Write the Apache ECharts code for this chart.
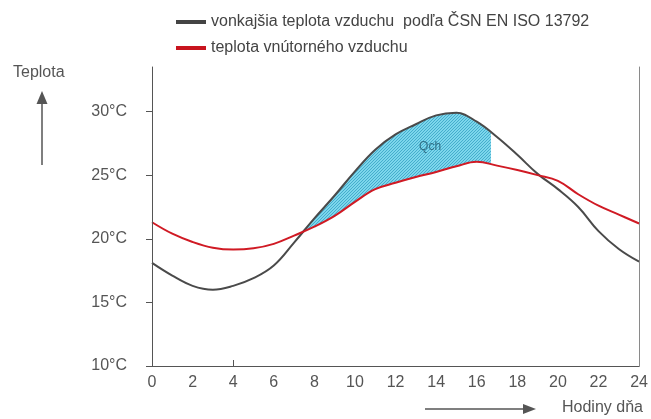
<!DOCTYPE html>
<html>
<head>
<meta charset="utf-8">
<script src="https://cdn.jsdelivr.net/npm/echarts@6/dist/echarts.min.js"></script>
<style>
  html, body { margin: 0; padding: 0; background: #fff; }
  #chart { width: 651px; height: 419px; }
</style>
</head>
<body>
<div id="chart"></div>
<script>
// ---- data ----
const hours = [0,1,2,3,4,5,6,7,8,9,10,11,12,13,14,15,16,17,18,19,20,21,22,23,24];
const outsideTemp = [18.1,17.1,16.3,16.0,16.3,16.9,17.9,19.7,21.6,23.4,25.3,27.0,28.2,29.0,29.7,29.9,29.2,28.0,26.6,25.1,23.9,22.5,20.6,19.2,18.2];
const insideTemp  = [21.3,20.4,19.75,19.3,19.15,19.25,19.6,20.25,20.95,21.8,22.9,23.9,24.4,24.85,25.25,25.7,26.05,25.75,25.4,25.0,24.55,23.5,22.6,21.9,21.2];
// shaded (Qch) region: from the crossing to the cut-off hour (upper edge = outside temperature)
const fillHours   = [7.37,8,9,10,11,12,13,14,15,16,16.7];
const fillOutside = [20.55,21.6,23.4,25.3,27.0,28.2,29.0,29.7,29.9,29.2,28.3];
const qchLabel = [13.7, 27.2];
const yTicks = [10,15,20,25,30];
const xTickMarks = [4];
const seriesNames = ['vonkajšia teplota vzduchu  podľa ČSN EN ISO 13792', 'teplota vnútorného vzduchu'];

const pair = (xs, ys) => xs.map((x, i) => [x, ys[i]]);

// hatch pattern
const pc = document.createElement('canvas');
pc.width = 6; pc.height = 6;
const ctx = pc.getContext('2d');
ctx.fillStyle = '#7dd6ec';
ctx.fillRect(0, 0, 6, 6);
ctx.strokeStyle = '#3ea8c8';
ctx.lineWidth = 0.9;
for (let c = -6; c <= 12; c += 3) {
  ctx.beginPath(); ctx.moveTo(c, 0); ctx.lineTo(c - 6, 6); ctx.stroke();
}

const FONT = 'Liberation Sans, Arial, sans-serif';
const chart = echarts.init(document.getElementById('chart'), null, { renderer: 'canvas' });
chart.setOption({
  animation: false,
  backgroundColor: '#fff',
  legend: {
    data: seriesNames,
    orient: 'vertical',
    left: 171,
    top: 9,
    itemWidth: 30,
    itemHeight: 4,
    itemGap: 10,
    icon: 'rect',
    textStyle: { fontFamily: FONT, fontSize: 16, color: '#444' }
  },
  grid: { left: 152, right: 6, top: 67, bottom: 53, containLabel: false },
  xAxis: {
    type: 'value', min: 0, max: 24, interval: 2, z: 10,
    axisLine: { show: true, lineStyle: { color: '#555', width: 1 } },
    axisTick: { show: true, inside: true, length: 6, customValues: xTickMarks, lineStyle: { color: '#555' } },
    axisLabel: { fontFamily: FONT, fontSize: 16, color: '#555', margin: 9, showMaxLabel: true, showMinLabel: true },
    splitLine: { show: false }
  },
  yAxis: [{
    type: 'value', min: 10, max: 33.5, interval: 5, z: 10,
    axisLine: { show: true, lineStyle: { color: '#555', width: 1 } },
    axisTick: { show: true, length: 6, customValues: yTicks, lineStyle: { color: '#555' } },
    axisLabel: { fontFamily: FONT, fontSize: 16, color: '#555', margin: 25, customValues: yTicks, formatter: '{value}°C' },
    splitLine: { show: false }
  }, {
    type: 'value', min: 10, max: 33.5, position: 'right', z: 10,
    axisLine: { show: true, lineStyle: { color: '#8a8a8a', width: 1 } },
    axisTick: { show: false }, axisLabel: { show: false }, splitLine: { show: false }
  }],
  series: [
    {
      name: 'Qch', type: 'line', smooth: 0.4, symbol: 'none', z: 1,
      data: pair(fillHours, fillOutside),
      lineStyle: { opacity: 0 },
      areaStyle: { color: { image: pc, repeat: 'repeat' }, opacity: 1, origin: 'start' },
      silent: true,
      markPoint: {
        symbol: 'circle', symbolSize: 1, z: 6,
        itemStyle: { color: 'rgba(0,0,0,0)' },
        data: [{ coord: qchLabel, value: 'Qch' }],
        label: { show: true, position: 'inside', formatter: 'Qch', fontFamily: FONT, fontSize: 12, color: '#2e6f86' }
      }
    },
    {
      // white mask under the inside-temperature curve, so the hatch only remains between the curves
      name: 'cover', type: 'line', smooth: 0.4, symbol: 'none', z: 2,
      data: pair(hours, insideTemp),
      lineStyle: { opacity: 0 },
      areaStyle: { color: '#ffffff', opacity: 1, origin: 'start' },
      silent: true
    },
    {
      name: seriesNames[0], type: 'line', smooth: 0.4, symbol: 'none', z: 3,
      data: pair(hours, outsideTemp),
      color: '#444',
      lineStyle: { color: '#4a4a4a', width: 2 }
    },
    {
      name: seriesNames[1], type: 'line', smooth: 0.4, symbol: 'none', z: 4,
      data: pair(hours, insideTemp),
      color: '#c8141e',
      lineStyle: { color: '#d01a24', width: 2 }
    }
  ],
  graphic: [
    { type: 'text', left: 13, top: 65, style: { text: 'Teplota', font: '16px ' + FONT, fill: '#555' } },
    { type: 'line', shape: { x1: 42, y1: 165, x2: 42, y2: 102 }, style: { stroke: '#555', lineWidth: 1.5 } },
    { type: 'polygon', shape: { points: [[42, 91], [36.5, 104], [47.5, 104]] }, style: { fill: '#555' } },
    { type: 'line', shape: { x1: 425, y1: 409, x2: 524, y2: 409 }, style: { stroke: '#555', lineWidth: 1.5 } },
    { type: 'polygon', shape: { points: [[536, 409], [523, 404], [523, 414]] }, style: { fill: '#555' } },
    { type: 'text', left: 562, top: 400, style: { text: 'Hodiny dňa', font: '16px ' + FONT, fill: '#555' } }
  ]
});
</script>
</body>
</html>
